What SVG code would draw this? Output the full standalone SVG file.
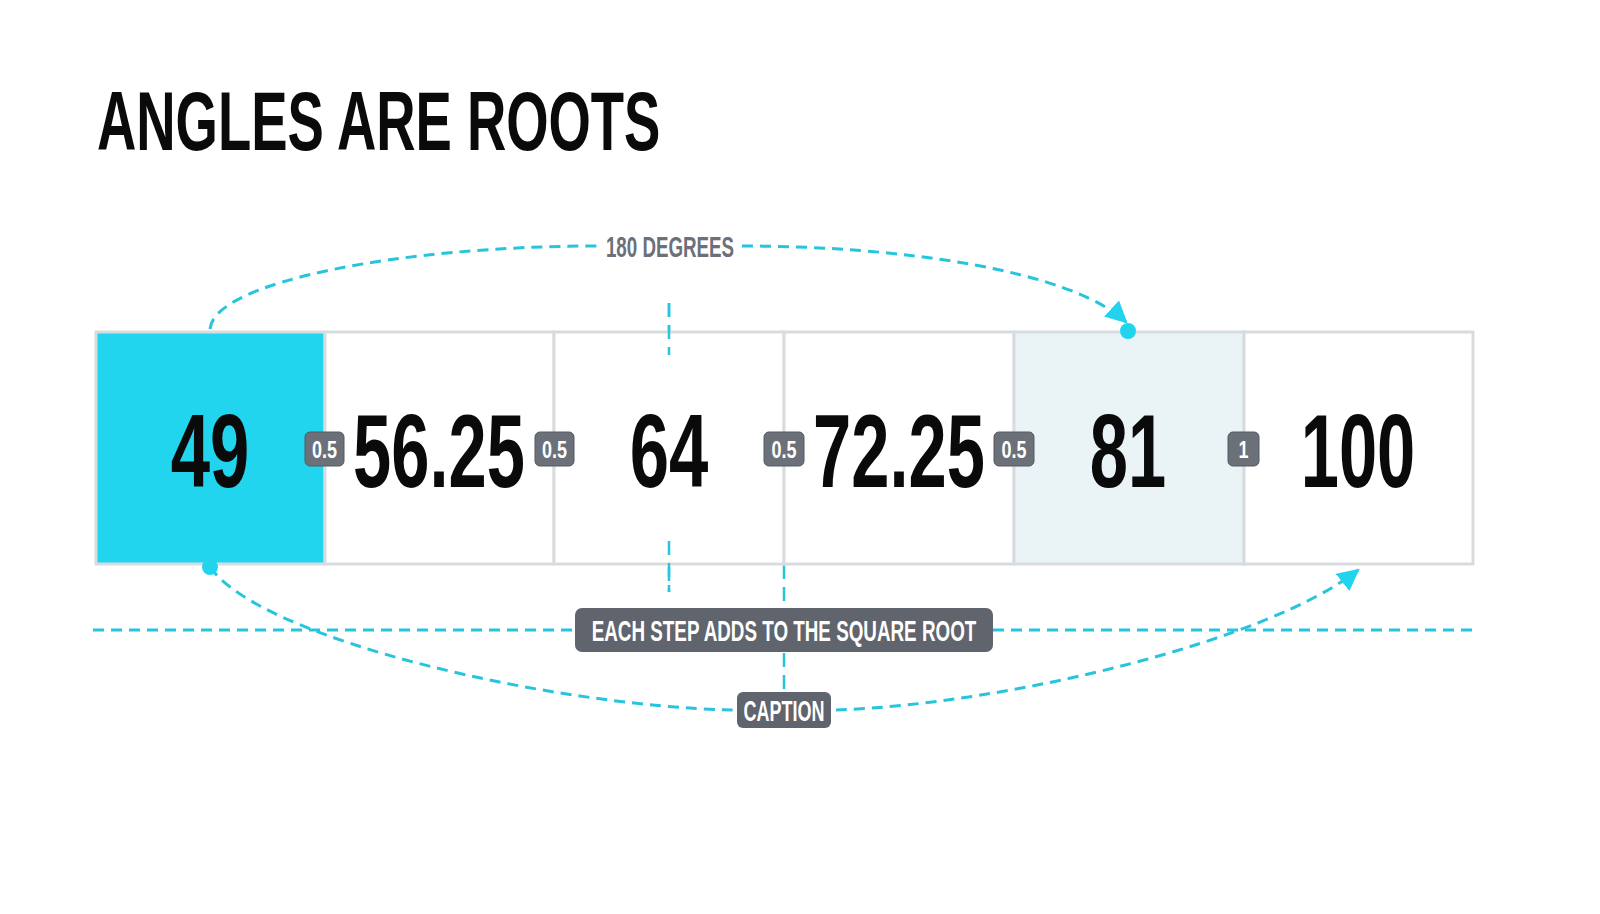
<svg xmlns="http://www.w3.org/2000/svg" width="1600" height="914" viewBox="0 0 1600 914">
<defs>
<style>
.cell{stroke:#d9dcdf;stroke-width:3}
.num{font-family:"Liberation Sans",Arial,sans-serif;font-weight:bold;font-size:104px;fill:#0a0a0a;text-anchor:middle}
.badge{fill:#6b7079;stroke:#555a62;stroke-width:1}
.btxt{font-family:"Liberation Sans",Arial,sans-serif;font-weight:bold;font-size:24px;fill:#ffffff;text-anchor:middle}
.dash{fill:none;stroke:#27c4dc;stroke-width:3;stroke-dasharray:11 7}
.thin{fill:none;stroke:#27c4dc;stroke-width:2.5;stroke-dasharray:14 8}
.lab{fill:#60646c}
.ltxt{font-family:"Liberation Sans",Arial,sans-serif;font-weight:bold;font-size:30px;fill:#ffffff;text-anchor:middle}
</style>
<marker id="arrow" viewBox="0 0 10 10" refX="9" refY="5" markerWidth="22" markerHeight="22" markerUnits="userSpaceOnUse" orient="auto">
<path d="M0,0 L10,5 L0,10 z" fill="#22d3ee"/>
</marker>
</defs>
<rect width="1600" height="914" fill="#ffffff"/>
<text transform="translate(97,150) scale(0.648,1)" font-family="Liberation Sans, Arial, sans-serif" font-weight="bold" font-size="84" fill="#0a0a0a">ANGLES ARE ROOTS</text>

<g id="connectors">
<line class="thin" x1="669" y1="303" x2="669" y2="592"/>
<line class="thin" x1="784" y1="565" x2="784" y2="692"/>
<line class="dash" x1="93" y1="630" x2="1475" y2="630"/>
<path class="dash" d="M210,329 C214,282 400,246 597,246"/>
<path class="dash" d="M742,246 C900,246 1070,270 1126,322" marker-end="url(#arrow)"/>
<path class="dash" d="M210,567 C262,640 550,706 733,710"/>
<path class="dash" d="M836,710 C1010,704 1270,640 1358,570" marker-end="url(#arrow)"/>
</g>

<g id="cells">
<g id="n49"><rect class="cell" x="96" y="332" width="229" height="232" fill="#22d5ef"/><text class="num" transform="translate(210,487) scale(0.68,1)">49</text></g>
<g id="n56"><rect class="cell" x="325" y="332" width="229" height="232" fill="#ffffff"/><text class="num" transform="translate(439,487) scale(0.66,1)">56.25</text></g>
<g id="n64"><rect class="cell" x="554" y="332" width="230" height="232" fill="#ffffff"/><text class="num" transform="translate(669,487) scale(0.68,1)">64</text></g>
<g id="n72"><rect class="cell" x="784" y="332" width="230" height="232" fill="#ffffff"/><text class="num" transform="translate(899,487) scale(0.66,1)">72.25</text></g>
<g id="n81"><rect class="cell" x="1014" y="332" width="230" height="232" fill="#eaf4f7"/><text class="num" transform="translate(1128,487) scale(0.66,1)">81</text></g>
<g id="n100"><rect class="cell" x="1244" y="332" width="229" height="232" fill="#ffffff"/><text class="num" transform="translate(1358,487) scale(0.66,1)">100</text></g>
</g>

<g id="guide-ends">
<line class="thin" x1="669" y1="303" x2="669" y2="355"/>
<line class="thin" x1="669" y1="541" x2="669" y2="592"/>
</g>

<circle cx="1128" cy="331" r="8" fill="#22d3ee"/>
<circle cx="210" cy="567" r="8" fill="#22d3ee"/>

<g id="badges">
<g><rect class="badge" x="305" y="432" width="39" height="34" rx="5"/><text class="btxt" transform="translate(324.5,458) scale(0.75,1)">0.5</text></g>
<g><rect class="badge" x="535" y="432" width="39" height="34" rx="5"/><text class="btxt" transform="translate(554.5,458) scale(0.75,1)">0.5</text></g>
<g><rect class="badge" x="764" y="432" width="40" height="34" rx="5"/><text class="btxt" transform="translate(784,458) scale(0.75,1)">0.5</text></g>
<g><rect class="badge" x="994" y="432" width="40" height="34" rx="5"/><text class="btxt" transform="translate(1014,458) scale(0.75,1)">0.5</text></g>
<g><rect class="badge" x="1228" y="432" width="31" height="34" rx="5"/><text class="btxt" transform="translate(1243.5,458) scale(0.75,1)">1</text></g>
</g>

<g id="label-180">
<text transform="translate(670,257) scale(0.625,1)" font-family="Liberation Sans, Arial, sans-serif" font-weight="bold" font-size="30" fill="#6b7079" text-anchor="middle">180 DEGREES</text>
</g>
<g id="label-step">
<rect class="lab" x="575" y="608" width="418" height="44" rx="7"/>
<text class="ltxt" transform="translate(784,641) scale(0.628,1)">EACH STEP ADDS TO THE SQUARE ROOT</text>
</g>
<g id="label-caption">
<rect class="lab" x="737" y="692" width="94" height="36" rx="6"/>
<text class="ltxt" transform="translate(784,721) scale(0.6,1)" font-size="27">CAPTION</text>
</g>
</svg>
